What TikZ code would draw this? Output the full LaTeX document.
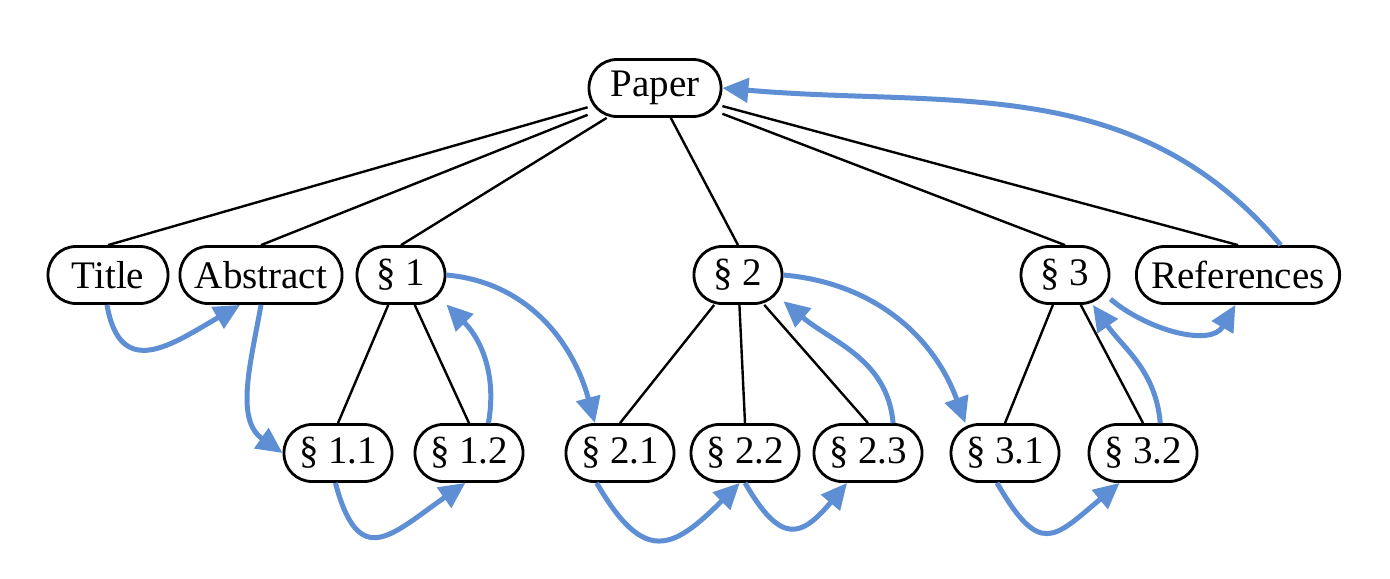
\documentclass[tikz,border=0pt]{standalone}
\usepackage{fontspec}
\setmainfont{Liberation Serif}
\usepackage{tikz}
\usetikzlibrary{arrows.meta}
\definecolor{flowblue}{RGB}{94,143,213}

\begin{document}
\begin{tikzpicture}[x=0.5pt, y=-0.5pt,
  part/.style={draw, line width=1.4pt, rounded corners=14pt, minimum height=28.5pt, minimum width=44pt, inner xsep=7.5pt, font=\fontsize{19.5}{23}\selectfont},
  tree/.style={line width=1.2pt},
  flow/.style={-{Triangle[length=13pt,width=12pt]}, line width=2.5pt, flowblue}]
  \useasboundingbox (0,0) rectangle (1390,578);
  % top level
  \node[part, minimum width=66pt] (paper) at (655,88) {Paper};
  \node[part, minimum width=60pt] (title) at (108,275) {Title};
  \node[part] (abstract) at (261,275) {Abstract};
  \node[part] (s1) at (401,275) {\S~1};
  \node[part] (s2) at (738,275) {\S~2};
  \node[part] (s3) at (1065,275) {\S~3};
  \node[part] (refs) at (1238,275) {References};
  % subsections
  \node[part] (s11) at (338,453) {\S~1.1};
  \node[part] (s12) at (469,453) {\S~1.2};
  \node[part] (s21) at (620,453) {\S~2.1};
  \node[part] (s22) at (745,453) {\S~2.2};
  \node[part] (s23) at (868,453) {\S~2.3};
  \node[part] (s31) at (1005,453) {\S~3.1};
  \node[part] (s32) at (1143,453) {\S~3.2};
  % tree edges
  \foreach \child in {title,abstract,s1,s2,s3,refs}
    \draw[tree] (paper) -- (\child.north);
  \draw[tree] (s1) -- (s11.north);
  \draw[tree] (s1) -- (s12.north);
  \draw[tree] (s2) -- (s21.north);
  \draw[tree] (s2) -- (s22.north);
  \draw[tree] (s2) -- (s23.north);
  \draw[tree] (s3) -- (s31.north);
  \draw[tree] (s3) -- (s32.north);
  % reading order
  \draw[flow] (title.-92) to[out=-80, in=-150, looseness=1.5] (abstract.-125);
  \draw[flow] (abstract.south) to[out=-100, in=145] (s11.west);
  \draw[flow] (s11.-95) to[out=-75, in=-145, looseness=1.8] (s12.-97);
  \draw[flow] (s12.57) to[out=80, in=-45] (s1.-33);
  \draw[flow] (s1.east) to[out=-5, in=105] (s21.130);
  \draw[flow] (s21.-128) to[out=-60, in=-135, looseness=1.7] (s22.-100);
  \draw[flow] (s22.south) to[out=-60, in=-130, looseness=1.8] (s23.-125);
  \draw[flow] (s23.50) to[out=95, in=-40] (s2.-30);
  \draw[flow] (s2.east) to[out=-5, in=110] (s31.143);
  \draw[flow] (s31.-105) to[out=-60, in=-140, looseness=1.8] (s32.-128);
  \draw[flow] (s32.60) to[out=95, in=-55] (s3.-47);
  \draw[flow] (s3.-28) to[out=-40, in=-120] (refs.-95);
  \draw[flow] (refs.35) to[out=130, in=-5] (paper.east);
\end{tikzpicture}
\end{document}
